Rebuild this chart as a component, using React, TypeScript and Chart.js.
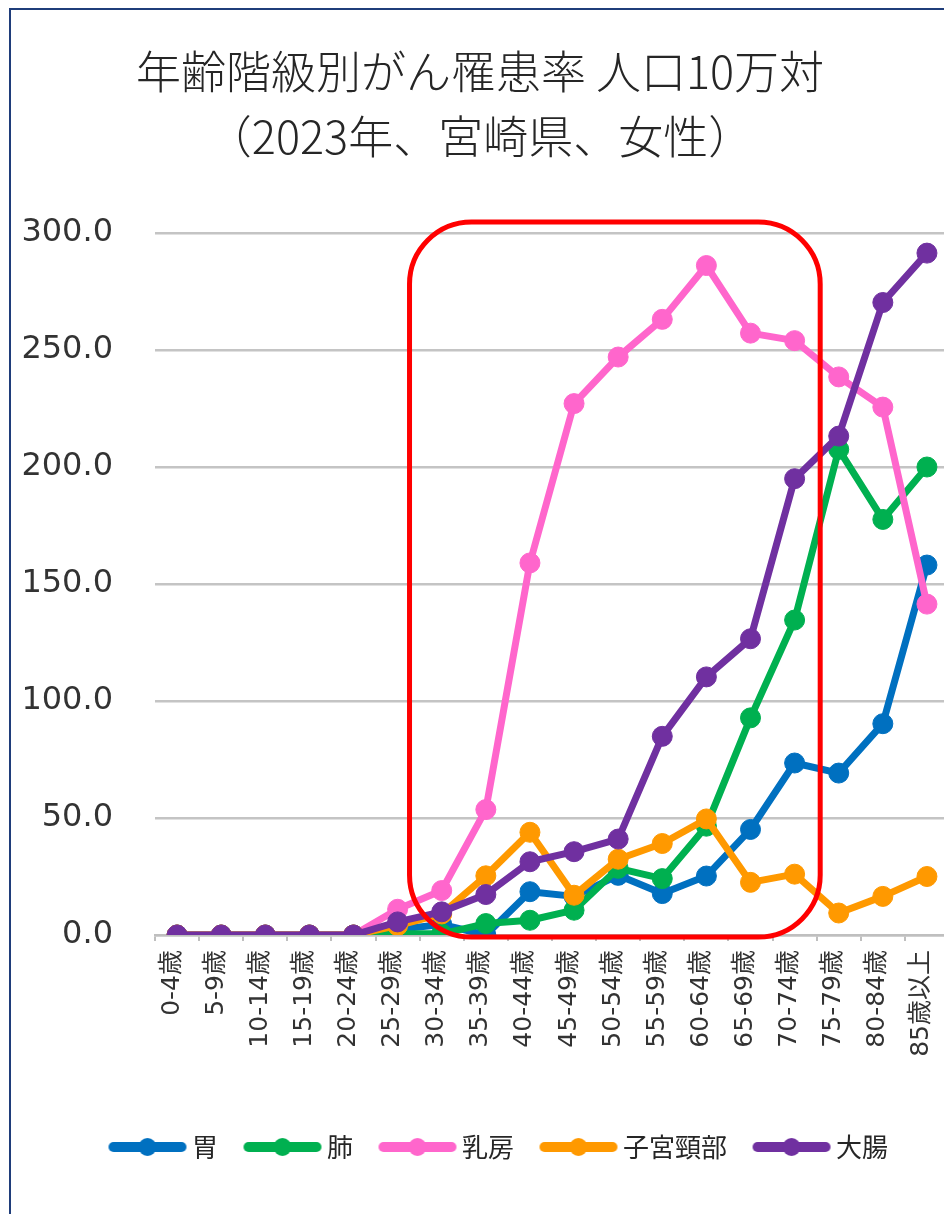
import React, { useEffect, useRef } from 'react';
import { Chart, registerables } from 'chart.js';

Chart.register(...registerables);

const ageLabels = [
  '0-4歳', '5-9歳', '10-14歳', '15-19歳', '20-24歳', '25-29歳', '30-34歳', '35-39歳', '40-44歳',
  '45-49歳', '50-54歳', '55-59歳', '60-64歳', '65-69歳', '70-74歳', '75-79歳', '80-84歳', '85歳以上',
];

const stomach = [0, 0, 0, 0, 0, 2.4, 4.5, 0, 18.5, 16.5, 25.5, 17.7, 25.2, 45.1, 73.5, 69.2, 90.3, 158.1];
const lung = [0, 0, 0, 0, 0, 0.5, 0.5, 4.9, 6.3, 10.6, 28.5, 24.1, 46.5, 92.8, 134.6, 207.5, 177.6, 200.0];
const breast = [0, 0, 0, 0, 0, 11.0, 19.0, 53.6, 159.0, 227.1, 247.0, 263.1, 286.1, 257.2, 254.0, 238.5, 225.6, 141.4];
const cervix = [0, 0, 0, 0, 0, 4.0, 9.0, 25.3, 43.9, 17.0, 32.4, 39.1, 49.6, 22.5, 26.0, 9.4, 16.5, 25.0];
const colorectal = [0, 0, 0, 0, 0, 5.6, 9.9, 17.3, 31.3, 35.6, 41.0, 84.9, 110.3, 126.6, 195.0, 213.2, 270.3, 291.4];

const seriesNames = ['胃', '肺', '乳房', '子宮頸部', '大腸'];
const seriesData = [stomach, lung, breast, cervix, colorectal];
const seriesColors = ['#0070c0', '#00b050', '#ff66cc', '#ff9900', '#7030a0'];

const titleLines = ['年齢階級別がん罹患率 人口10万対', '（2023年、宮崎県、女性）'];

const yMin = 0;
const yMax = 300;
const yStep = 50;

// highlight box in data coordinates (category index / value)
const highlightX = [5.27, 14.58];
const highlightY = [-0.9, 304.7];

const CJK = "'Noto Sans CJK JP', sans-serif";
const LATIN_CJK = "'DejaVu Sans', 'Noto Sans CJK JP', sans-serif";

function legendIcon(color: string): HTMLCanvasElement {
  const c = document.createElement('canvas');
  c.width = 80;
  c.height = 22;
  const g = c.getContext('2d')!;
  g.strokeStyle = color;
  g.lineWidth = 10;
  g.lineCap = 'round';
  g.beginPath();
  g.moveTo(6, 11);
  g.lineTo(74, 11);
  g.stroke();
  g.fillStyle = color;
  g.beginPath();
  g.arc(40, 11, 9, 0, Math.PI * 2);
  g.fill();
  return c;
}

const legendShift = {
  id: 'legendShift',
  afterLayout(chart: any) {
    const lg = chart.legend;
    if (lg) {
      lg.left += 22;
      lg.right += 22;
    }
  },
};

const highlightBox = {
  id: 'highlightBox',
  afterDraw(chart: any) {
    const { ctx, scales } = chart;
    const x0 = scales.x.getPixelForValue(highlightX[0]);
    const x1 = scales.x.getPixelForValue(highlightX[1]);
    const y0 = scales.y.getPixelForValue(highlightY[1]);
    const y1 = scales.y.getPixelForValue(highlightY[0]);
    ctx.save();
    ctx.strokeStyle = '#ff0000';
    ctx.lineWidth = 5;
    ctx.beginPath();
    ctx.roundRect(x0, y0, x1 - x0, y1 - y0, 62);
    ctx.stroke();
    ctx.restore();
  },
};

export default function App() {
  const ref = useRef<HTMLCanvasElement | null>(null);

  useEffect(() => {
    if (!ref.current) return;
    // draw order: later series on top, like the original
    const order = [4, 3, 2, 1, 0];
    const icons = order.map((i) => legendIcon(seriesColors[i]));
    const datasets = order.map((i) => ({
      label: seriesNames[i],
      data: seriesData[i],
      borderColor: seriesColors[i],
      backgroundColor: seriesColors[i],
      pointBackgroundColor: seriesColors[i],
      pointBorderColor: seriesColors[i],
      borderWidth: 7,
      pointRadius: 10,
      pointBorderWidth: 1,
      borderJoinStyle: 'round' as const,
      borderCapStyle: 'round' as const,
      tension: 0,
      fill: false,
    }));

    const chart = new Chart(ref.current, {
      type: 'line',
      data: { labels: ageLabels, datasets },
      plugins: [legendShift, highlightBox],
      options: {
        animation: false,
        responsive: false,
        devicePixelRatio: 1,
        layout: { padding: { left: 11, right: 22, top: 0, bottom: 0 } },
        plugins: {
          tooltip: { enabled: false },
          title: {
            display: true,
            text: titleLines,
            color: '#262626',
            font: { family: CJK, size: 45, weight: 300, lineHeight: 65 / 45 },
            padding: { top: 39.5, bottom: 63.5 },
          },
          legend: {
            display: true,
            position: 'bottom',
            reverse: true,
            labels: {
              usePointStyle: true,
              pointStyleWidth: 63,
              padding: 33,
              color: '#262626',
              font: { family: CJK, size: 26 },
              generateLabels: (ch: any) => {
                const items = (Chart.defaults.plugins.legend.labels as any).generateLabels(ch);
                return items.map((it: any) => ({ ...it, pointStyle: icons[it.datasetIndex] }));
              },
            },
          },
        },
        scales: {
          x: {
            type: 'category',
            offset: true,
            grid: {
              offset: true,
              drawOnChartArea: false,
              drawTicks: true,
              tickLength: 6,
              color: '#bfbfbf',
              lineWidth: 2,
            },
            border: { display: true, color: '#bfbfbf', width: 2.5 },
            ticks: {
              autoSkip: false,
              minRotation: 90,
              maxRotation: 90,
              padding: 9,
              labelOffset: -5,
              color: '#333333',
              font: { family: LATIN_CJK, size: 25 },
            },
            afterFit: (s: any) => {
              s.height = 166;
            },
          },
          y: {
            min: yMin,
            max: yMax,
            grid: {
              drawTicks: false,
              color: '#c4c4c4',
              lineWidth: 2.5,
            },
            border: { display: false },
            ticks: {
              stepSize: yStep,
              padding: 42,
              color: '#333333',
              font: { family: "'DejaVu Sans', sans-serif", size: 32 },
              callback: (v: any) => Number(v).toFixed(1),
            },
            afterFit: (s: any) => {
              s.width = 144;
            },
          },
        },
      },
    });
    return () => chart.destroy();
  }, []);

  return (
    <div
      style={{
        position: 'fixed',
        left: 0,
        top: 0,
        width: 944,
        height: 1214,
        overflow: 'hidden',
        background: '#ffffff',
      }}
    >
      <div
        style={{
          position: 'absolute',
          left: 9,
          top: 8,
          width: 1000,
          height: 1300,
          border: '2px solid #1f3d7a',
        }}
      />
      <canvas
        ref={ref}
        width={971}
        height={1170}
        style={{ position: 'absolute', left: 0, top: 0, width: 971, height: 1170 }}
      />
    </div>
  );
}
